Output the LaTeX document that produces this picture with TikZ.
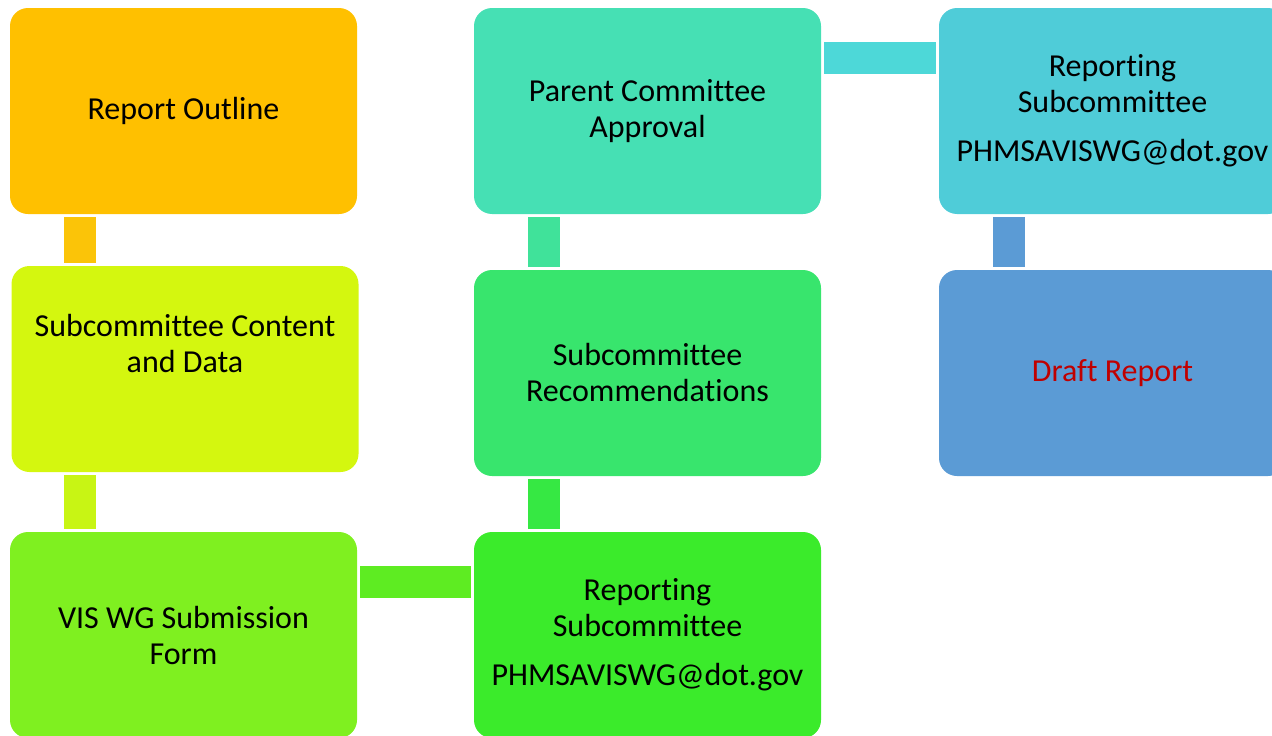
\documentclass[tikz,border=0pt]{standalone}
\usepackage{fontspec}
\setmainfont{Carlito}[Ligatures=NoCommon]
\definecolor{cOutline}{RGB}{255,192,0}
\definecolor{cContent}{RGB}{212,247,15}
\definecolor{cForm}{RGB}{127,240,32}
\definecolor{cReport}{RGB}{59,235,43}
\definecolor{cRecs}{RGB}{56,229,109}
\definecolor{cParent}{RGB}{70,224,180}
\definecolor{cRepTop}{RGB}{79,204,216}
\definecolor{cDraft}{RGB}{91,155,213}
\definecolor{cDraftText}{RGB}{192,0,0}
\tikzset{
  stage/.style={rounded corners=18pt, inner sep=0pt, outer sep=0pt,
    minimum width=347pt, minimum height=206pt, align=center,
    font=\fontsize{32}{36}\selectfont},
  bar/.style={line width=32pt, shorten <=3pt, shorten >=3pt}
}
\begin{document}
\begin{tikzpicture}[x=1pt, y=-1pt]
\useasboundingbox (0,0) rectangle (1272,736);
\clip (0,0) rectangle (1272,736);
\node[stage, fill=cOutline] (outline) at (183.5,111) {Report Outline};
\node[stage, fill=cContent] (content) at (185,369) {};
\node[font=\fontsize{32}{36}\selectfont, align=center] (contenttext) at (185,344) {Subcommittee Content\\and Data};
\node[stage, fill=cForm] (form) at (183.5,635) {VIS WG Submission\\Form};
\node[stage, fill=cReport] (report) at (647.5,635) {Reporting\\Subcommittee\\[13pt]PHMSAVISWG@dot.gov};
\node[stage, fill=cRecs] (recs) at (647.5,373) {Subcommittee\\Recommendations};
\node[stage, fill=cParent] (parent) at (647.5,111) {Parent Committee\\Approval};
\node[stage, fill=cRepTop] (reptop) at (1112.5,111) {Reporting\\Subcommittee\\[13pt]PHMSAVISWG@dot.gov};
\node[stage, fill=cDraft, text=cDraftText] (draft) at (1112.5,373) {Draft Report};
% bars between the stages
\draw[bar, draw={rgb,255:red,251;green,196;blue,8}] ([xshift=70pt]outline.south west) -- ([xshift=70pt]outline.south west |- content.north);
\draw[bar, draw={rgb,255:red,200;green,245;blue,20}] ([xshift=70pt]form.north west |- content.south) -- ([xshift=70pt]form.north west);
\draw[bar, draw={rgb,255:red,94;green,236;blue,34}] ([yshift=-50pt]form.north east) -- ([yshift=-50pt]report.north west);
\draw[bar, draw={rgb,255:red,54;green,232;blue,67}] ([xshift=70pt]report.north west) -- ([xshift=70pt]recs.south west);
\draw[bar, draw={rgb,255:red,64;green,226;blue,154}] ([xshift=70pt]recs.north west) -- ([xshift=70pt]parent.south west);
\draw[bar, draw={rgb,255:red,77;green,216;blue,216}] ([yshift=-50pt]parent.north east) -- ([yshift=-50pt]reptop.north west);
\draw[bar, draw=cDraft] ([xshift=70pt]reptop.south west) -- ([xshift=70pt]draft.north west);
\end{tikzpicture}
\end{document}
